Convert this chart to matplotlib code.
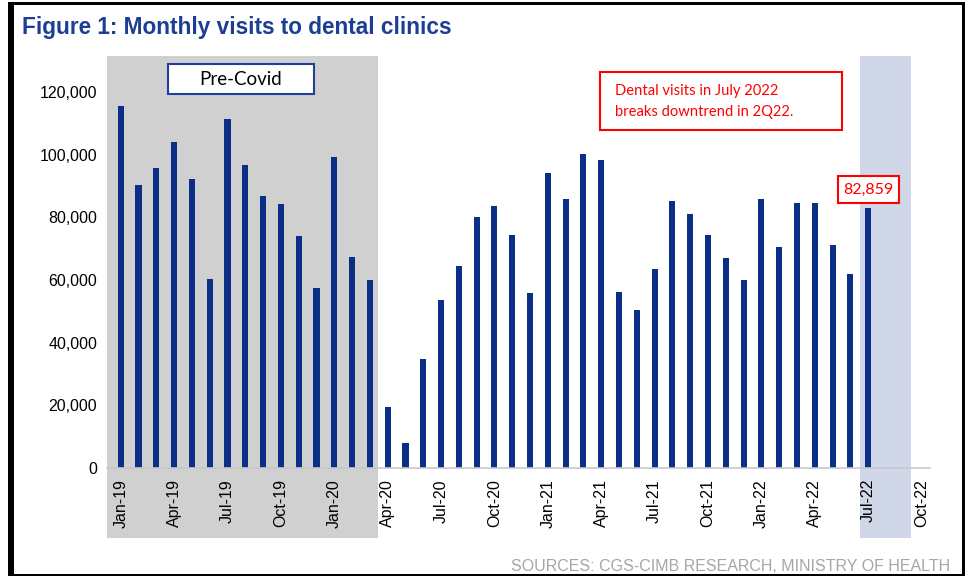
import matplotlib.pyplot as plt
from matplotlib.patches import Rectangle
import numpy as np

# colours
NAVY = "#0b2f87"
TITLE_BLUE = "#1c3f94"
GREY_SHADE = "#d0d0d0"
BLUE_SHADE = "#d0d7e8"
RED = "#ff0000"

months = [
    "Jan-19", "Feb-19", "Mar-19", "Apr-19", "May-19", "Jun-19", "Jul-19", "Aug-19",
    "Sep-19", "Oct-19", "Nov-19", "Dec-19", "Jan-20", "Feb-20", "Mar-20", "Apr-20",
    "May-20", "Jun-20", "Jul-20", "Aug-20", "Sep-20", "Oct-20", "Nov-20", "Dec-20",
    "Jan-21", "Feb-21", "Mar-21", "Apr-21", "May-21", "Jun-21", "Jul-21", "Aug-21",
    "Sep-21", "Oct-21", "Nov-21", "Dec-21", "Jan-22", "Feb-22", "Mar-22", "Apr-22",
    "May-22", "Jun-22", "Jul-22",
]
visits = [
    115500, 90200, 95900, 104200, 92100, 60300, 111500, 96700,
    86900, 84200, 73900, 57300, 99200, 67200, 60100, 19400,
    7900, 34800, 53600, 64500, 80200, 83600, 74300, 55700,
    94000, 86000, 100100, 98300, 56100, 50500, 63500, 85300,
    81100, 74400, 66900, 60100, 86000, 70500, 84500, 84500,
    71200, 61900, 82859,
]
# axis runs to Oct-22, labelled every quarter
tick_labels = ["Jan-19", "Apr-19", "Jul-19", "Oct-19", "Jan-20", "Apr-20", "Jul-20",
               "Oct-20", "Jan-21", "Apr-21", "Jul-21", "Oct-21", "Jan-22", "Apr-22",
               "Jul-22", "Oct-22"]
yticks = [0, 20000, 40000, 60000, 80000, 100000, 120000]

plt.rcParams["font.family"] = ["Liberation Sans", "DejaVu Sans"]
BOXFONT = ["Lato", "DejaVu Sans"]

fig = plt.figure(figsize=(9.71, 5.76), dpi=100)
fig.patch.set_facecolor("white")
ax = fig.add_axes([107 / 971, 1 - 468 / 576, 823 / 971, 412 / 576])
ax.set_facecolor("none")

x = np.arange(len(visits))
ax.set_xlim(-0.77, 45.47)
ax.set_ylim(0, 131500)

# shaded periods (extend below the axis over the tick labels)
trans = ax.get_xaxis_transform()
ax.add_patch(Rectangle((-0.77, -0.17), 14.44 + 0.77, 1.17, transform=trans,
                       facecolor=GREY_SHADE, edgecolor="none", clip_on=False, zorder=0))
ax.add_patch(Rectangle((41.53, -0.17), 2.85, 1.17, transform=trans,
                       facecolor=BLUE_SHADE, edgecolor="none", clip_on=False, zorder=0))

ax.bar(x, visits, width=0.34, color=NAVY, zorder=2)

ax.set_xticks(np.arange(0, 46, 3))
ax.set_xticklabels(tick_labels, rotation=90, fontsize=11.5, va="top", ha="center")
ax.set_yticks(yticks)
ax.set_yticklabels([f"{v:,}" for v in yticks], fontsize=11.5)
ax.tick_params(axis="both", length=0)
ax.tick_params(axis="x", pad=8)
ax.tick_params(axis="y", pad=7)

for s in ["top", "right", "left"]:
    ax.spines[s].set_visible(False)
ax.spines["bottom"].set_color("#c8c8c8")
ax.spines["bottom"].set_linewidth(1.2)
ax.spines["bottom"].set_zorder(3)

# Pre-Covid label
ax.add_patch(Rectangle((0.0738, 0.907), 0.1782, 0.0736, transform=ax.transAxes,
                       facecolor="white", edgecolor="#1f3f9c", linewidth=1.5, zorder=4))
ax.text(0.1629, 0.9438, "Pre-Covid", transform=ax.transAxes, ha="center", va="center",
        fontsize=13.5, family=BOXFONT, color="black", zorder=5)

# commentary box
ax.add_patch(Rectangle((0.599, 0.8204), 0.2944, 0.1415, transform=ax.transAxes,
                       facecolor="white", edgecolor=RED, linewidth=1.5, zorder=4))
ax.text(0.6173, 0.9158, "Dental visits in July 2022", transform=ax.transAxes,
        ha="left", va="center", fontsize=10.6, family=BOXFONT, color=RED, zorder=5)
ax.text(0.6173, 0.8648, "breaks downtrend in 2Q22.", transform=ax.transAxes,
        ha="left", va="center", fontsize=10.6, family=BOXFONT, color=RED, zorder=5)

# last value callout
ax.add_patch(Rectangle((0.8878, 0.6425), 0.0748, 0.067, transform=ax.transAxes,
                       facecolor="white", edgecolor=RED, linewidth=1.5, zorder=4))
ax.text(0.9252, 0.676, f"{visits[-1]:,}", transform=ax.transAxes, ha="center",
        va="center", fontsize=11.5, family=BOXFONT, color=RED, zorder=5)

fig.text(22 / 971, 1 - 34.3 / 576, "Figure 1: Monthly visits to dental clinics",
         ha="left", va="baseline", fontsize=16.3, fontweight="bold", color=TITLE_BLUE)
fig.text(950 / 971, 1 - 571 / 576, "SOURCES: CGS-CIMB RESEARCH, MINISTRY OF HEALTH",
         ha="right", va="baseline", fontsize=11.5, color="#a6a6a6")

# page frame
W, H = 971, 576
fig.add_artist(Rectangle((8 / W, 0), 6 / W, 1 - 3 / H, transform=fig.transFigure,
                         facecolor="black", edgecolor="none"))
fig.add_artist(Rectangle((8 / W, 1 - 5 / H), 957 / W, 2.5 / H, transform=fig.transFigure,
                         facecolor="black", edgecolor="none"))
fig.add_artist(Rectangle((962 / W, 0), 2.5 / W, 1 - 3 / H, transform=fig.transFigure,
                         facecolor="black", edgecolor="none"))
fig.add_artist(Rectangle((8 / W, 0), 957 / W, 2 / H, transform=fig.transFigure,
                         facecolor="black", edgecolor="none"))

fig.savefig("out.png", dpi=100, facecolor="white")
plt.close(fig)
